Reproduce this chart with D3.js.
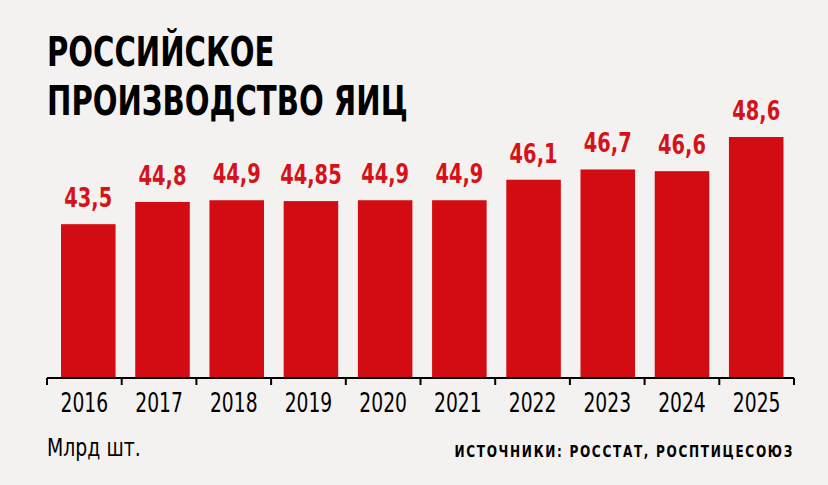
<html><head>
  <meta charset="utf-8">
  <script src="https://d3js.org/d3.v7.min.js"></script>
  <style>
    body { margin:0; background:#f4f2f0; }
    text { font-family:"DejaVu Sans Condensed","DejaVu Sans",sans-serif; }
  </style>
</head>
<body>
  <svg id="chart" width="828" height="485"></svg>
  <script>
    const years = ["2016","2017","2018","2019","2020","2021","2022","2023","2024","2025"];
    const values = [43.5, 44.8, 44.9, 44.85, 44.9, 44.9, 46.1, 46.7, 46.6, 48.6];
    const valueLabels = ["43,5","44,8","44,9","44,85","44,9","44,9","46,1","46,7","46,6","48,6"];
    const titleLines = ["РОССИЙСКОЕ","ПРОИЗВОДСТВО ЯИЦ"];

    let svg = d3.select("svg#chart");

    svg.append("rect")
       .attr("width",828)
       .attr("height",485)
       .attr("fill","#f4f2f0");

    // text squeezed horizontally, the original uses a condensed face
    function addText(str, px, py, sx) {
      return svg.append("text")
                .text(str)
                .attr("transform","translate(" + px + "," + py + ") scale(" + sx + ",1)");
    }

    // bars sit a little to the right of the tick cells, like the original
    let x = d3.scaleBand()
              .domain(years)
              .range([51,793.5])
              .paddingInner(0.265)
              .paddingOuter(0.135);

    // tick cells of the axis
    let xAxis = d3.scaleBand()
                  .domain(years)
                  .range([47,794]);

    let y = d3.scaleLinear()
              .domain([34.5,48.6])
              .range([378,137]);

    // title
    titleLines.forEach((t,i) => {
      addText(t, 47, 66 + i*49, 0.79)
         .style("font-size","41px")
         .style("font-weight","bold")
         .style("fill","#000");
    });

    // bars
    years.forEach((d,i) => {
      svg.append("rect")
         .attr("x",x(d))
         .attr("y",y(values[i]))
         .attr("width",x.bandwidth())
         .attr("height",y.range()[0] - y(values[i]))
         .attr("fill","#d30b12");

      addText(valueLabels[i], x(d) + x.bandwidth()/2, y(values[i]) - 17, 0.8)
         .style("text-anchor","middle")
         .style("font-size","27px")
         .style("font-weight","bold")
         .style("fill","#d5121a");
    });

    // axis
    let tickPos = years.map(d => xAxis(d)).concat([xAxis.range()[1]]);
    let g = svg.append("g")
               .attr("transform","translate(0,378)");
    tickPos.forEach(t => {
      g.append("line")
       .attr("x1",t).attr("x2",t)
       .attr("y1",0).attr("y2",7)
       .style("stroke","#000")
       .style("stroke-width",2);
    });
    g.append("line")
     .attr("x1",xAxis.range()[0]).attr("x2",xAxis.range()[1])
     .attr("y1",0).attr("y2",0)
     .style("stroke","#000")
     .style("stroke-width",2);

    years.forEach((d,i) => {
      addText(d, xAxis(d) + xAxis.bandwidth()/2, 412, 0.8)
         .style("text-anchor","middle")
         .style("font-size","26px")
         .style("fill","#000");
    });

    addText("Млрд шт.", 47, 456, 0.84)
       .style("font-size","25px")
       .style("fill","#000");

    addText("ИСТОЧНИКИ: РОССТАТ, РОСПТИЦЕСОЮЗ", 794, 457, 0.84)
       .style("text-anchor","end")
       .style("font-size","16px")
       .style("font-weight","bold")
       .style("letter-spacing","2px")
       .style("fill","#000");
  </script>
</body>
</html>
